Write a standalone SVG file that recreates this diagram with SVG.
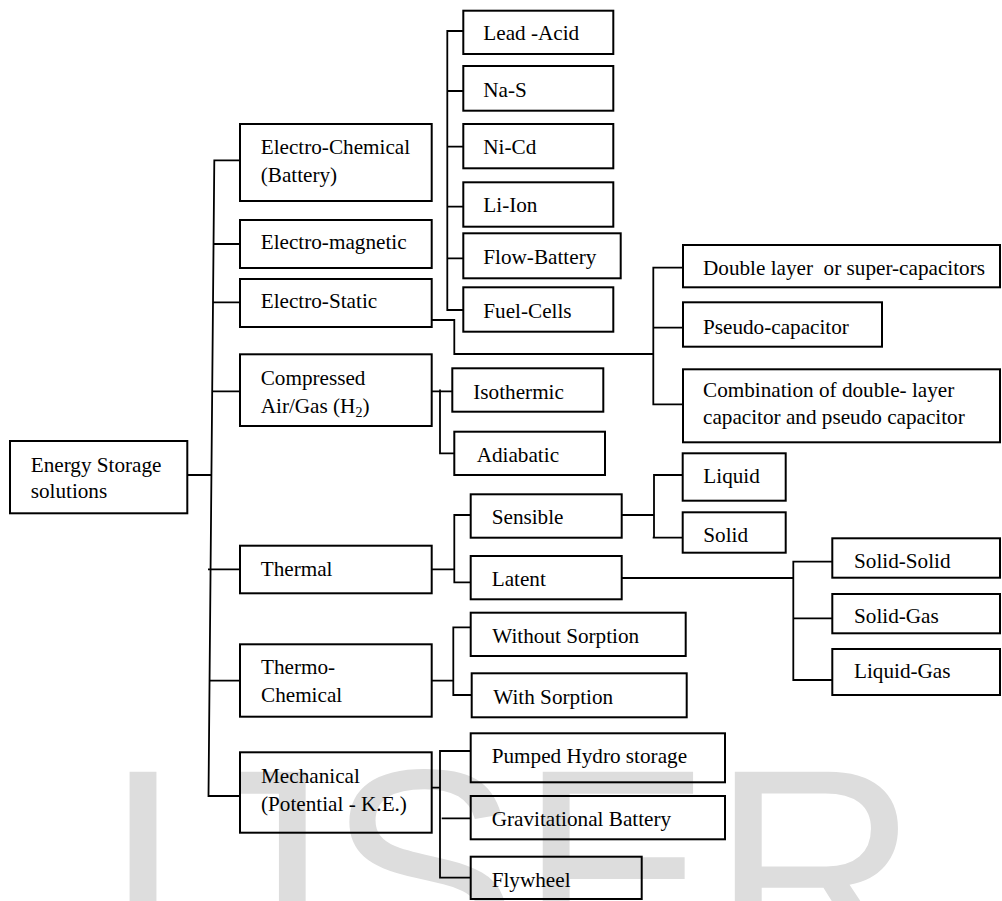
<svg xmlns="http://www.w3.org/2000/svg" width="1002" height="901" viewBox="0 0 1002 901">
<style>
.bx{fill:none;stroke:#000;stroke-width:2}
.t{font-family:"Liberation Serif","Times New Roman",serif;font-size:21.2px;fill:#000}
.cn{fill:none;stroke:#000;stroke-width:1.8}
.wm{font-family:"Liberation Sans",Arial,sans-serif;font-size:288px;fill:#dddddd}
</style>
<rect width="1002" height="901" fill="#fff"/>
<text class="wm" x="103" y="970">IJSER</text>
<g id="connectors">
<path class="cn" d="M240 160.3H214.3L208.5 796H240"/>
<path class="cn" d="M213.5 244H240M213 302.3H240M212.5 391.3H240M187.3 475H211.4M208 569.3H240M209.6 680.7H240"/>
<path class="cn" d="M463.3 31H447.3V310H463.3M447.3 91H463.3M447.3 146.7H463.3M447.3 206.7H463.3M447.3 258.3H463.3"/>
<path class="cn" d="M431.7 320H454.3V354H653.3M683 267.7H653.3V404.3H683M653.3 327.7H683"/>
<path class="cn" d="M431.7 391.3H452.3M440 389.5V453.3H454.3"/>
<path class="cn" d="M431.7 569.3H454.3M470.7 515H454.3V582.3H470.7"/>
<path class="cn" d="M621.7 515H654M682.7 475H654V537.7M652.7 537.7H682.7"/>
<path class="cn" d="M621.7 578H793.3M832.3 561.7H793.3V680H832.3M793.3 618.3H832.3"/>
<path class="cn" d="M431.7 680.7H453.3M470.7 627.3H453.3V695H471.7"/>
<path class="cn" d="M431.7 787.7H440M470.7 751H440V877.7H470.7M441.7 818.3H470.7"/>
</g>
<g id="energy-storage"><rect class="bx" x="10" y="441" width="177.3" height="72.3"/><text class="t" x="30.7" y="471.7">Energy Storage</text><text class="t" x="30.7" y="498">solutions</text></g>
<g id="electro-chemical"><rect class="bx" x="240" y="124" width="191.7" height="77"/><text class="t" x="260.7" y="154">Electro-Chemical</text><text class="t" x="260.7" y="181.7">(Battery)</text></g>
<g id="electro-magnetic"><rect class="bx" x="240" y="220" width="191.7" height="48"/><text class="t" x="260.7" y="249.3">Electro-magnetic</text></g>
<g id="electro-static"><rect class="bx" x="240" y="279" width="191.7" height="48"/><text class="t" x="260.7" y="308.3">Electro-Static</text></g>
<g id="compressed"><rect class="bx" x="240" y="354.3" width="191.7" height="71.7"/><text class="t" x="260.7" y="385">Compressed</text><text class="t" x="260.7" y="412.7">Air/Gas (H<tspan font-size="14" dy="4">2</tspan><tspan dy="-4">)</tspan></text></g>
<g id="thermal"><rect class="bx" x="240" y="545.7" width="191.7" height="47.6"/><text class="t" x="260.7" y="576">Thermal</text></g>
<g id="thermo-chemical"><rect class="bx" x="240" y="644.3" width="191.7" height="72.4"/><text class="t" x="261" y="674">Thermo-</text><text class="t" x="261" y="701.7">Chemical</text></g>
<g id="mechanical"><rect class="bx" x="240" y="752.3" width="191.7" height="80.4"/><text class="t" x="261" y="783.3">Mechanical</text><text class="t" x="261" y="810.7">(Potential - K.E.)</text></g>
<g id="lead-acid"><rect class="bx" x="463.3" y="10.7" width="150" height="43.3"/><text class="t" x="483.3" y="40">Lead -Acid</text></g>
<g id="na-s"><rect class="bx" x="463.3" y="66" width="150" height="44.7"/><text class="t" x="483.3" y="96.7">Na-S</text></g>
<g id="ni-cd"><rect class="bx" x="463.3" y="124" width="150" height="44.3"/><text class="t" x="483.3" y="154">Ni-Cd</text></g>
<g id="li-ion"><rect class="bx" x="463.3" y="182.3" width="150" height="44.4"/><text class="t" x="483.3" y="212.3">Li-Ion</text></g>
<g id="flow-battery"><rect class="bx" x="463.3" y="233.3" width="157.4" height="45"/><text class="t" x="483.3" y="264.3">Flow-Battery</text></g>
<g id="fuel-cells"><rect class="bx" x="463.3" y="287.3" width="150" height="44.4"/><text class="t" x="483.3" y="317.7">Fuel-Cells</text></g>
<g id="double-layer"><rect class="bx" x="683" y="245" width="317" height="42.3"/><text class="t" x="703" y="275">Double layer&#160; or super-capacitors</text></g>
<g id="pseudo"><rect class="bx" x="683" y="302.3" width="199" height="44.4"/><text class="t" x="703" y="334.3">Pseudo-capacitor</text></g>
<g id="combination"><rect class="bx" x="683" y="369.3" width="317" height="73"/><text class="t" x="703" y="397">Combination of double- layer</text><text class="t" x="703" y="424">capacitor and pseudo capacitor</text></g>
<g id="isothermic"><rect class="bx" x="452.3" y="368.3" width="151" height="43.4"/><text class="t" x="473.3" y="399">Isothermic</text></g>
<g id="adiabatic"><rect class="bx" x="454.3" y="431.7" width="150.7" height="43.3"/><text class="t" x="476.7" y="461.7">Adiabatic</text></g>
<g id="sensible"><rect class="bx" x="470.7" y="494.3" width="151" height="43.4"/><text class="t" x="491.7" y="524.3">Sensible</text></g>
<g id="latent"><rect class="bx" x="470.7" y="556" width="151" height="43.3"/><text class="t" x="491.7" y="586">Latent</text></g>
<g id="liquid"><rect class="bx" x="682.7" y="453.3" width="103" height="47.4"/><text class="t" x="703.3" y="483.3">Liquid</text></g>
<g id="solid"><rect class="bx" x="682.7" y="512.3" width="103" height="40.4"/><text class="t" x="703.3" y="542.3">Solid</text></g>
<g id="solid-solid"><rect class="bx" x="832.3" y="538.3" width="167.7" height="39.4"/><text class="t" x="854" y="567.7">Solid-Solid</text></g>
<g id="solid-gas"><rect class="bx" x="832.3" y="594" width="167.7" height="39.3"/><text class="t" x="854" y="623.3">Solid-Gas</text></g>
<g id="liquid-gas"><rect class="bx" x="832.3" y="649" width="167.7" height="46"/><text class="t" x="854" y="678.3">Liquid-Gas</text></g>
<g id="without-sorption"><rect class="bx" x="470.7" y="612.7" width="215" height="43.3"/><text class="t" x="492.3" y="642.7">Without Sorption</text></g>
<g id="with-sorption"><rect class="bx" x="471.7" y="673.3" width="215" height="44"/><text class="t" x="493.3" y="704">With Sorption</text></g>
<g id="pumped-hydro"><rect class="bx" x="470.7" y="733.3" width="254.3" height="49"/><text class="t" x="491.7" y="763.3">Pumped Hydro storage</text></g>
<g id="gravitational"><rect class="bx" x="470.7" y="796" width="254.3" height="43.3"/><text class="t" x="491.7" y="826">Gravitational Battery</text></g>
<g id="flywheel"><rect class="bx" x="470.7" y="856.7" width="171" height="42.3"/><text class="t" x="491.7" y="886.7">Flywheel</text></g>
</svg>
